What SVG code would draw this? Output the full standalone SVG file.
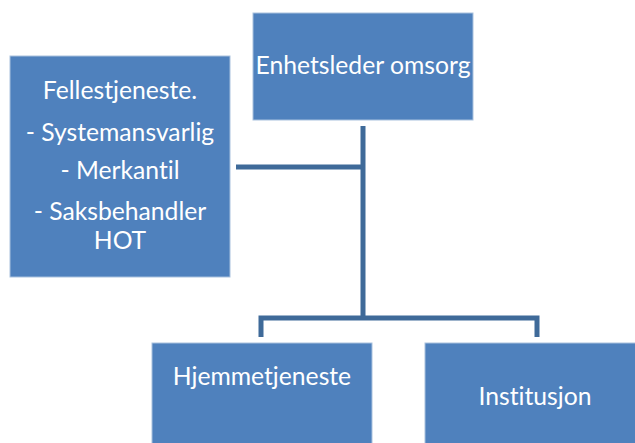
<svg xmlns="http://www.w3.org/2000/svg" width="635" height="443" viewBox="0 0 635 443">
<style>
.box{fill:#4F81BD;stroke:#A9C1DE;stroke-width:1}
.t{fill:#FFFFFF;font-family:Lato,"Liberation Sans",sans-serif;font-size:24.7px;text-anchor:middle;font-variant-ligatures:none}
.c{fill:none;stroke:#3F6A99;stroke-width:5;stroke-linejoin:miter}
</style>
<rect width="635" height="443" fill="#FFFFFF"/>
<g id="connectors">
<path class="c" d="M363,126 V318"/>
<path class="c" d="M236,167 H363"/>
<path class="c" d="M261,337 V318 H537 V337"/>
</g>
<g id="enhetsleder">
<rect class="box" x="253" y="13" width="220" height="107"/>
<text class="t" x="363" y="74">Enhetsleder omsorg</text>
</g>
<g id="fellestjeneste">
<rect class="box" x="10" y="56" width="220" height="221"/>
<text class="t" x="120" y="99">Fellestjeneste.</text>
<text class="t" x="120" y="141">- Systemansvarlig</text>
<text class="t" x="120" y="179">- Merkantil</text>
<text class="t" x="120" y="220">- Saksbehandler</text>
<text class="t" x="120" y="249">HOT</text>
</g>
<g id="hjemmetjeneste">
<rect class="box" x="152" y="343" width="220" height="110"/>
<text class="t" x="262" y="385">Hjemmetjeneste</text>
</g>
<g id="institusjon">
<rect class="box" x="425" y="343" width="220" height="110"/>
<text class="t" x="535" y="405">Institusjon</text>
</g>
</svg>
